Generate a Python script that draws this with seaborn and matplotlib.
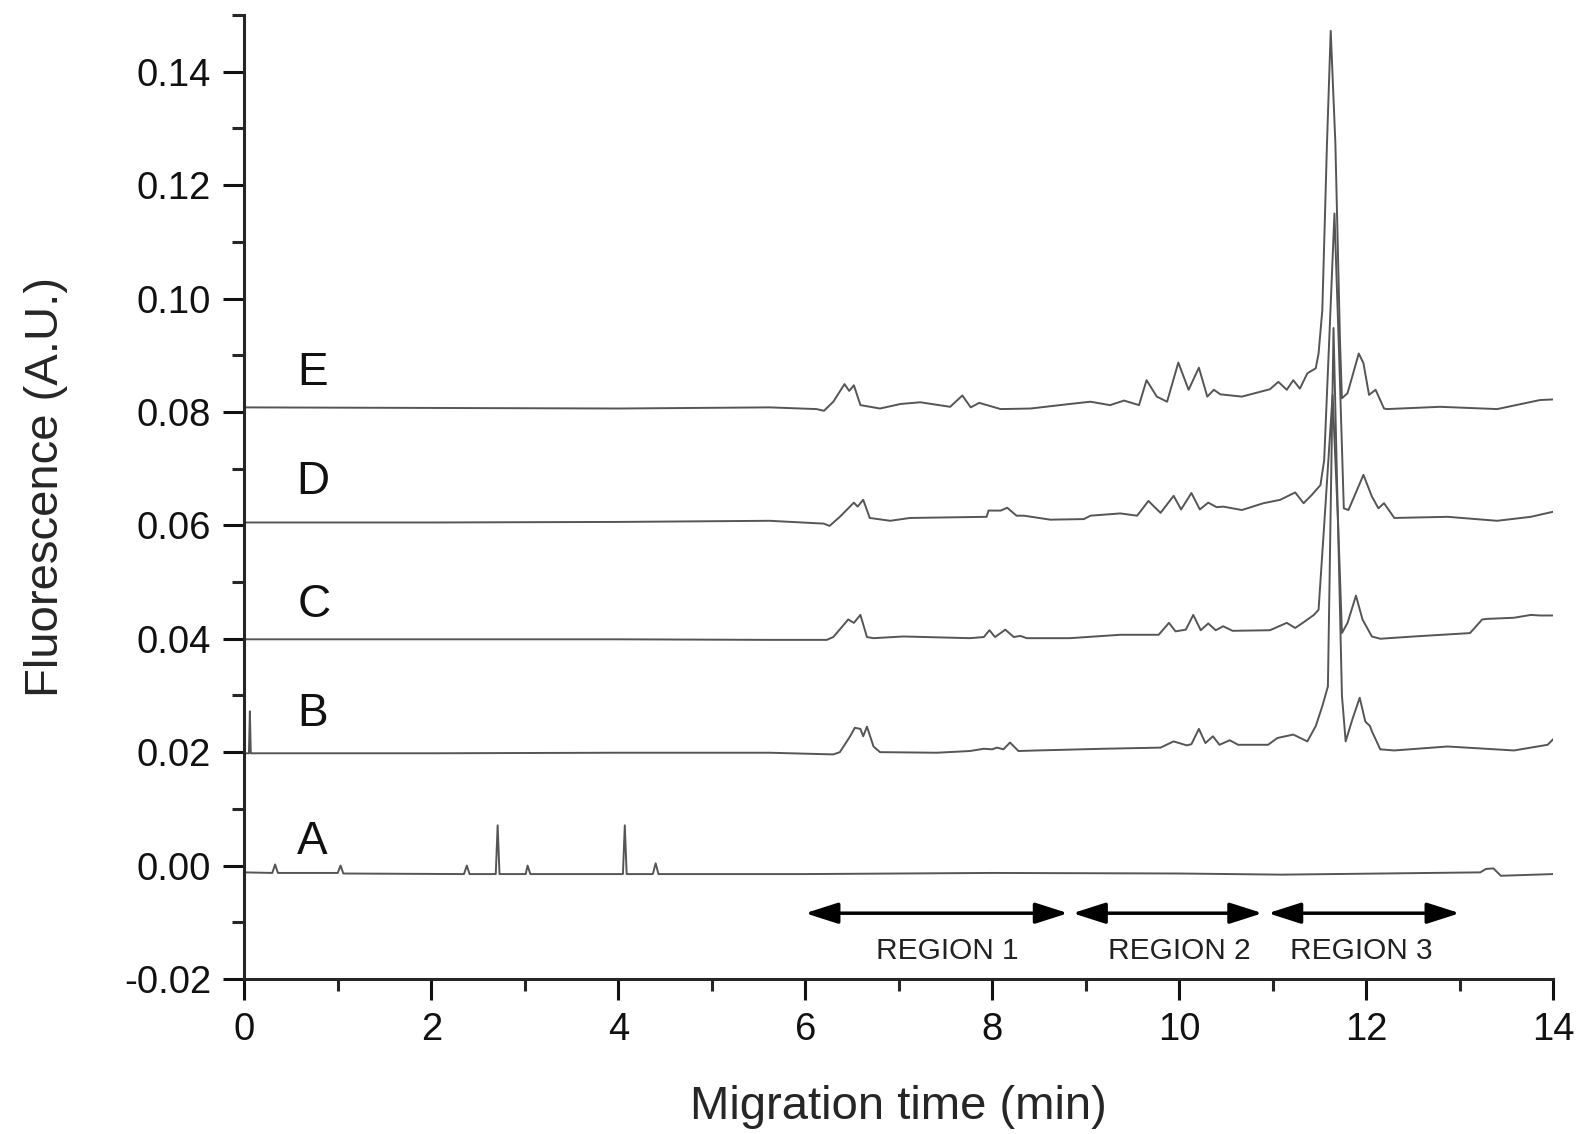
import numpy as np
import pandas as pd
import matplotlib
matplotlib.use("Agg")
import matplotlib.pyplot as plt
import seaborn as sns
from matplotlib.ticker import MultipleLocator, FormatStrFormatter


# Electropherogram traces (time in min, fluorescence in A.U.)
time_a = [0.0, 0.30, 0.33, 0.36, 1.00, 1.03, 1.06, 2.35, 2.38, 2.41, 2.69, 2.71, 2.73,
          3.01, 3.03, 3.06, 4.05, 4.07, 4.09, 4.37, 4.40, 4.43, 6.0, 8.0, 10.0, 11.1,
          13.22, 13.28, 13.36, 13.44, 14.0]
fluor_a = [-0.0012, -0.0013, 0.0002, -0.0013, -0.0013, 0.0000, -0.0014, -0.0015, 0.0000,
           -0.0015, -0.0015, 0.0071, -0.0015, -0.0015, 0.0000, -0.0015, -0.0015, 0.0071,
           -0.0015, -0.0015, 0.0004, -0.0015, -0.0015, -0.0013, -0.0014, -0.0016,
           -0.0012, -0.0006, -0.0005, -0.0018, -0.0015]

time_b = [0.0, 0.05, 0.06, 0.07, 2.0, 4.0, 5.62, 6.30, 6.37, 6.48, 6.53, 6.59, 6.62, 6.66,
          6.73, 6.80, 7.41, 7.76, 7.91, 8.00, 8.05, 8.12, 8.19, 8.28, 8.48, 9.19, 9.80,
          9.94, 10.08, 10.13, 10.21, 10.28, 10.36, 10.43, 10.54, 10.63, 10.95, 11.05,
          11.22, 11.37, 11.46, 11.53, 11.59, 11.65, 11.74, 11.78, 11.85, 11.93, 11.99,
          12.04, 12.06, 12.15, 12.30, 12.87, 13.58, 13.94, 14.0]
fluor_b = [0.0198, 0.0198, 0.0272, 0.0198, 0.0198, 0.0199, 0.0199, 0.0196, 0.0200, 0.0228,
           0.0243, 0.0241, 0.0228, 0.0245, 0.0210, 0.0200, 0.0199, 0.0202, 0.0206, 0.0205,
           0.0208, 0.0205, 0.0217, 0.0202, 0.0203, 0.0206, 0.0208, 0.0219, 0.0212, 0.0214,
           0.0241, 0.0216, 0.0228, 0.0213, 0.0221, 0.0213, 0.0213, 0.0225, 0.0231, 0.0219,
           0.0246, 0.0281, 0.0316, 0.0948, 0.0300, 0.0219, 0.0257, 0.0296, 0.0254, 0.0246,
           0.0237, 0.0205, 0.0203, 0.0210, 0.0203, 0.0213, 0.0223]

time_c = [0.0, 2.0, 4.0, 5.62, 6.23, 6.30, 6.46, 6.52, 6.59, 6.66, 6.73, 7.05, 7.76, 7.91,
          7.97, 8.03, 8.14, 8.23, 8.30, 8.37, 8.83, 9.37, 9.78, 9.89, 9.96, 10.07, 10.15,
          10.23, 10.31, 10.39, 10.47, 10.57, 10.97, 11.15, 11.24, 11.33, 11.44, 11.49,
          11.55, 11.64, 11.70, 11.74, 11.80, 11.89, 11.96, 12.06, 12.15, 12.51, 13.11,
          13.24, 13.29, 13.58, 13.76, 13.86, 14.0]
fluor_c = [0.0399, 0.0399, 0.0399, 0.0398, 0.0398, 0.0403, 0.0434, 0.0428, 0.0442, 0.0403,
           0.0401, 0.0404, 0.0401, 0.0403, 0.0415, 0.0403, 0.0416, 0.0403, 0.0405, 0.0401,
           0.0401, 0.0407, 0.0407, 0.0428, 0.0413, 0.0416, 0.0442, 0.0415, 0.0427, 0.0415,
           0.0422, 0.0414, 0.0415, 0.0428, 0.0419, 0.0429, 0.0442, 0.0451, 0.0600, 0.0830,
           0.0600, 0.0410, 0.0428, 0.0476, 0.0434, 0.0404, 0.0400, 0.0404, 0.0410, 0.0434,
           0.0435, 0.0437, 0.0442, 0.0441, 0.0441]

time_d = [0.0, 2.0, 4.0, 5.62, 6.20, 6.26, 6.37, 6.52, 6.56, 6.62, 6.69, 6.91, 7.12, 7.94,
          7.96, 8.09, 8.16, 8.26, 8.34, 8.62, 8.98, 9.05, 9.37, 9.55, 9.67, 9.80, 9.94,
          10.02, 10.13, 10.22, 10.31, 10.40, 10.47, 10.67, 10.90, 11.08, 11.24, 11.33,
          11.42, 11.51, 11.55, 11.61, 11.66, 11.71, 11.76, 11.81, 11.97, 12.06, 12.13,
          12.19, 12.30, 12.87, 13.40, 13.76, 14.0]
fluor_d = [0.0605, 0.0605, 0.0606, 0.0608, 0.0603, 0.0599, 0.0615, 0.0640, 0.0633, 0.0645,
           0.0613, 0.0608, 0.0613, 0.0615, 0.0626, 0.0626, 0.0631, 0.0617, 0.0617, 0.0610,
           0.0611, 0.0617, 0.0621, 0.0617, 0.0643, 0.0622, 0.0652, 0.0628, 0.0657, 0.0628,
           0.0640, 0.0632, 0.0633, 0.0627, 0.0639, 0.0645, 0.0658, 0.0639, 0.0654, 0.0671,
           0.0715, 0.0950, 0.1150, 0.0900, 0.0630, 0.0627, 0.0689, 0.0651, 0.0630, 0.0639,
           0.0613, 0.0615, 0.0608, 0.0615, 0.0624]

time_e = [0.0, 2.0, 4.0, 5.62, 6.12, 6.20, 6.30, 6.42, 6.47, 6.52, 6.59, 6.80, 7.02, 7.23,
          7.55, 7.68, 7.77, 7.86, 8.09, 8.41, 8.83, 9.05, 9.26, 9.41, 9.57, 9.65, 9.76,
          9.87, 9.99, 10.10, 10.21, 10.30, 10.37, 10.44, 10.67, 10.97, 11.06, 11.15, 11.22,
          11.29, 11.37, 11.46, 11.49, 11.53, 11.58, 11.62, 11.67, 11.72, 11.74, 11.80,
          11.92, 11.97, 12.03, 12.10, 12.19, 12.22, 12.79, 13.40, 13.86, 14.0]
fluor_e = [0.0808, 0.0807, 0.0806, 0.0808, 0.0805, 0.0802, 0.0818, 0.0849, 0.0837, 0.0847,
           0.0812, 0.0806, 0.0814, 0.0817, 0.0809, 0.0829, 0.0808, 0.0816, 0.0805, 0.0806,
           0.0814, 0.0818, 0.0812, 0.0820, 0.0812, 0.0856, 0.0827, 0.0818, 0.0887, 0.0839,
           0.0878, 0.0827, 0.0839, 0.0831, 0.0827, 0.0840, 0.0853, 0.0839, 0.0856, 0.0841,
           0.0868, 0.0877, 0.0903, 0.0979, 0.1273, 0.1472, 0.1273, 0.0921, 0.0824, 0.0833,
           0.0903, 0.0886, 0.0830, 0.0839, 0.0806, 0.0805, 0.0809, 0.0805, 0.0821, 0.0822]

trace_names = ["A", "B", "C", "D", "E"]
label_x = [0.73, 0.73, 0.75, 0.73, 0.73]
label_y = [0.0041, 0.0267, 0.0459, 0.0677, 0.0868]

region_names = ["REGION 1", "REGION 2", "REGION 3"]
region_start = [6.0, 8.86, 10.95]
region_end = [8.81, 10.89, 13.0]
region_text_x = [7.52, 10.0, 11.95]

# Tidy data
frames = []
for name, t, f in zip(trace_names,
                      [time_a, time_b, time_c, time_d, time_e],
                      [fluor_a, fluor_b, fluor_c, fluor_d, fluor_e]):
    frames.append(pd.DataFrame({"time": t, "fluorescence": f, "trace": name}))
df = pd.concat(frames, ignore_index=True)

# Plot
sns.set_style("ticks")
plt.rcParams["font.family"] = ["Liberation Sans", "DejaVu Sans"]
plt.rcParams["axes.unicode_minus"] = False

fig = plt.figure(figsize=(15.83, 11.34), dpi=100)
ax = fig.add_axes([0.1543, 0.1367, 0.8269, 0.8501])

sns.lineplot(
    data=df,
    x="time",
    y="fluorescence",
    hue="trace",
    palette={n: "#555555" for n in trace_names},
    estimator=None,
    sort=False,
    legend=False,
    linewidth=1.4,
    ax=ax,
)

for name, x, y in zip(trace_names, label_x, label_y):
    ax.text(x, y, name, ha="center", va="center", fontsize=33, color="#111111")

arrow_y = -0.0084
for name, x0, x1, xt in zip(region_names, region_start, region_end, region_text_x):
    ax.annotate("", xy=(x1, arrow_y), xytext=(x0, arrow_y),
                arrowprops=dict(arrowstyle="<|-|>,head_length=1.0,head_width=0.32",
                                mutation_scale=20, lw=2.5, color="black",
                                shrinkA=0, shrinkB=0))
    ax.text(xt, -0.0151, name, ha="center", va="center",
            fontsize=21.5, color="#222222")

ax.set_xlim(0, 14)
ax.set_ylim(-0.02, 0.15)
ax.xaxis.set_major_locator(MultipleLocator(2))
ax.xaxis.set_minor_locator(MultipleLocator(1))
ax.yaxis.set_major_locator(MultipleLocator(0.02))
ax.yaxis.set_minor_locator(MultipleLocator(0.01))
ax.yaxis.set_major_formatter(FormatStrFormatter("%.2f"))

sns.despine(ax=ax)
for side in ["left", "bottom"]:
    ax.spines[side].set_linewidth(2.2)
ax.tick_params(which="major", direction="out", length=15, width=2.2, pad=9,
               labelsize=27.5, colors="#111111")
ax.tick_params(which="minor", direction="out", length=8.5, width=2.2)

ax.set_xlabel("Migration time (min)", fontsize=34)
ax.set_ylabel("Fluorescence (A.U.)", fontsize=34)
ax.xaxis.set_label_coords(0.5, -0.11)
ax.yaxis.set_label_coords(-0.135, 0.51)

fig.savefig("out.png", dpi=100)
